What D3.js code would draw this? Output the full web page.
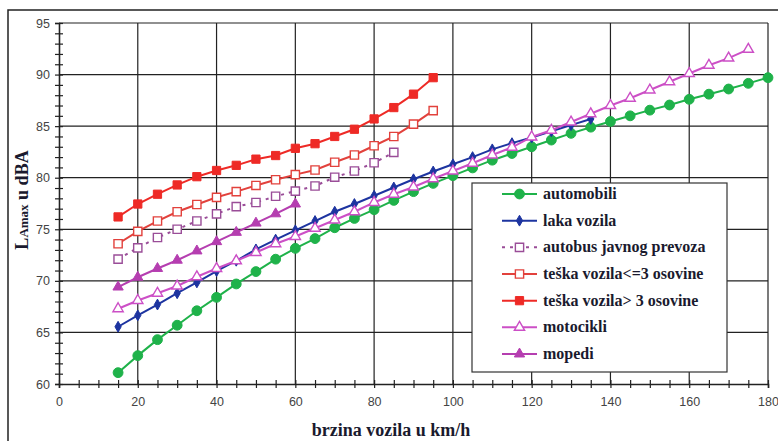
<!DOCTYPE html>
<html>
<head>
<meta charset="utf-8">
<script src="https://cdn.jsdelivr.net/npm/d3@7"></script>
<style>
  body { margin: 0; background: #fff; }
  svg { display: block; }
  .serif { font-family: 'Liberation Serif', 'Times New Roman', serif; font-weight: bold; fill: #1a1a2e; }
  .tick text { font-family: 'Liberation Sans', Arial, sans-serif; font-size: 12.5px; fill: #444; }
</style>
</head>
<body>
<div id="chart"></div>
<script>
// speeds start at 15 km/h and go in 5 km/h steps
const automobili = [61.1, 62.75, 64.3, 65.7, 67.1, 68.4, 69.7, 70.9, 72.1, 73.15, 74.1, 75.15, 76.05, 76.9, 77.8, 78.65, 79.45, 80.2, 80.95, 81.7, 82.35, 83.0, 83.65, 84.3, 84.9, 85.45, 86.0, 86.55, 87.05, 87.6, 88.1, 88.6, 89.15, 89.7];
const lakaVozila = [65.55, 66.65, 67.7, 68.8, 69.85, 70.95, 71.95, 73.05, 74.0, 74.9, 75.8, 76.7, 77.45, 78.25, 79.05, 79.85, 80.6, 81.3, 82.0, 82.75, 83.35, 83.9, 84.5, 85.1, 85.7];
const autobus = [72.1, 73.2, 74.2, 75.0, 75.8, 76.5, 77.2, 77.6, 78.2, 78.7, 79.2, 80.05, 80.65, 81.45, 82.45];
const teskaDo3 = [73.6, 74.8, 75.8, 76.7, 77.4, 78.1, 78.65, 79.25, 79.8, 80.3, 80.75, 81.5, 82.2, 83.1, 84.0, 85.2, 86.5];
const teskaPreko3 = [76.2, 77.45, 78.4, 79.3, 80.1, 80.7, 81.2, 81.8, 82.15, 82.85, 83.3, 84.0, 84.7, 85.7, 86.8, 88.1, 89.7];
const motocikli = [67.3, 68.1, 68.8, 69.5, 70.4, 71.2, 71.95, 72.75, 73.6, 74.3, 75.1, 75.9, 76.7, 77.6, 78.4, 79.1, 79.9, 80.65, 81.4, 82.2, 82.95, 83.95, 84.6, 85.4, 86.2, 87.0, 87.7, 88.5, 89.3, 90.1, 90.9, 91.6, 92.45];
const mopedi = [69.4, 70.35, 71.2, 72.0, 72.9, 73.8, 74.7, 75.6, 76.5, 77.45];

const seriesNames = ["automobili", "laka vozila", "autobus javnog prevoza", "teška vozila<=3 osovine", "teška vozila> 3 osovine", "motocikli", "mopedi"];
const xTicks = [0, 20, 40, 60, 80, 100, 120, 140, 160, 180];
const yTicks = [60, 65, 70, 75, 80, 85, 90, 95];
const startSpeed = 15, stepSpeed = 5;

const series = [
  {name: seriesNames[0], values: automobili, color: "#1fb24a", symbol: d3.symbolCircle, size: 76, fill: true, dash: null},
  {name: seriesNames[1], values: lakaVozila, color: "#1d34a0", symbol: d3.symbolDiamond, size: 34, fill: true, dash: null},
  {name: seriesNames[2], values: autobus, color: "#9a4d98", symbol: d3.symbolSquare, size: 68, fill: false, dash: "3,5"},
  {name: seriesNames[3], values: teskaDo3, color: "#e2413c", symbol: d3.symbolSquare, size: 68, fill: false, dash: null},
  {name: seriesNames[4], values: teskaPreko3, color: "#ee2a26", symbol: d3.symbolSquare, size: 68, fill: true, dash: null},
  {name: seriesNames[5], values: motocikli, color: "#cc4fc6", symbol: d3.symbolTriangle, size: 46, fill: false, dash: null},
  {name: seriesNames[6], values: mopedi, color: "#b53eb0", symbol: d3.symbolTriangle, size: 46, fill: true, dash: null}
];

const width = 778, height = 441;
const svg = d3.select("#chart").append("svg")
  .attr("width", width)
  .attr("height", height);

// outer frame (runs off the picture on the right and bottom)
svg.append("rect")
  .attr("x", 8).attr("y", 10)
  .attr("width", 790).attr("height", 460)
  .attr("fill", "none")
  .attr("stroke", "#222")
  .attr("stroke-width", 1.5);

const xScale = d3.scaleLinear().domain([0, 180]).range([59, 768]);
const yScale = d3.scaleLinear().domain([60, 95]).range([384, 23]);

// grid
const grid = svg.append("g");
grid.selectAll(".hgrid")
  .data(yTicks.slice(1))
  .enter().append("line")
  .attr("x1", xScale(0)).attr("x2", xScale(180))
  .attr("y1", d => yScale(d)).attr("y2", d => yScale(d))
  .attr("stroke", "#222").attr("stroke-width", 1.2);
grid.selectAll(".vgrid")
  .data(xTicks.slice(1))
  .enter().append("line")
  .attr("x1", d => xScale(d)).attr("x2", d => xScale(d))
  .attr("y1", yScale(60)).attr("y2", yScale(95))
  .attr("stroke", "#222").attr("stroke-width", 1.2);

// y axis
const yAxis = svg.append("g")
  .attr("transform", `translate(${xScale(0)},0)`)
  .call(d3.axisLeft(yScale).tickValues(d3.range(60, 96, 1)).tickSize(4).tickFormat(""));
yAxis.selectAll(".tick line").attr("x1", 4).attr("stroke", "#222").attr("stroke-width", 1.2);
yAxis.select(".domain").attr("stroke", "#222").attr("stroke-width", 1.6);
const yLabels = svg.append("g")
  .attr("transform", `translate(${xScale(0)},0)`)
  .call(d3.axisLeft(yScale).tickValues(yTicks).tickSize(0).tickPadding(9));
yLabels.select(".domain").remove();
yLabels.attr("font-family", null).attr("font-size", null);

// x axis
const xAxis = svg.append("g")
  .attr("transform", `translate(0,${yScale(60)})`)
  .call(d3.axisBottom(xScale).tickValues(d3.range(0, 181, 5)).tickSize(4).tickFormat(""));
xAxis.selectAll(".tick line").attr("y1", -4).attr("stroke", "#222").attr("stroke-width", 1.2);
xAxis.select(".domain").attr("stroke", "#222").attr("stroke-width", 1.6);
const xLabels = svg.append("g")
  .attr("transform", `translate(0,${yScale(60)})`)
  .call(d3.axisBottom(xScale).tickValues(xTicks).tickSize(0).tickPadding(13));
xLabels.select(".domain").remove();
xLabels.attr("font-family", null).attr("font-size", null);

// axis titles
svg.append("text")
  .attr("class", "serif")
  .attr("x", 391).attr("y", 436)
  .attr("text-anchor", "middle")
  .style("font-size", "18px")
  .text("brzina vozila u km/h");

const yTitle = svg.append("text")
  .attr("class", "serif")
  .attr("transform", "translate(28,200) rotate(-90)")
  .attr("text-anchor", "middle")
  .style("font-size", "18px");
yTitle.append("tspan").text("L");
yTitle.append("tspan").style("font-size", "13px").text("Amax");
yTitle.append("tspan").text(" u dBA");

// series
const line = d3.line()
  .x((d, i) => xScale(startSpeed + i * stepSpeed))
  .y(d => yScale(d));

series.forEach(s => {
  svg.append("path")
    .datum(s.values)
    .attr("fill", "none")
    .attr("stroke", s.color)
    .attr("stroke-width", 2)
    .attr("stroke-dasharray", s.dash)
    .attr("d", line);
});

series.forEach(s => {
  svg.selectAll(null)
    .data(s.values)
    .enter().append("path")
    .attr("transform", (d, i) => `translate(${xScale(startSpeed + i * stepSpeed)},${yScale(d)})`)
    .attr("d", d3.symbol().type(s.symbol).size(s.size))
    .attr("fill", s.fill ? s.color : "#fff")
    .attr("stroke", s.color)
    .attr("stroke-width", s.fill ? 1 : 1.4);
});

// legend
const legend = svg.append("g");
legend.append("rect")
  .attr("x", 472).attr("y", 183)
  .attr("width", 255).attr("height", 189)
  .attr("fill", "#fff")
  .attr("stroke", "#333")
  .attr("stroke-width", 1.2);

const legendY = d3.scalePoint().domain(seriesNames).range([194, 354]);

series.forEach(s => {
  const y = legendY(s.name);
  legend.append("line")
    .attr("x1", 502).attr("x2", 537)
    .attr("y1", y).attr("y2", y)
    .attr("stroke", s.color)
    .attr("stroke-width", 2)
    .attr("stroke-dasharray", s.dash);
  legend.append("path")
    .attr("transform", `translate(519.5,${y})`)
    .attr("d", d3.symbol().type(s.symbol).size(s.size))
    .attr("fill", s.fill ? s.color : "#fff")
    .attr("stroke", s.color)
    .attr("stroke-width", s.fill ? 1 : 1.4);
  legend.append("text")
    .attr("class", "serif")
    .attr("x", 543).attr("y", y + 5)
    .style("font-size", "16px")
    .text(s.name);
});
</script>
</body>
</html>
